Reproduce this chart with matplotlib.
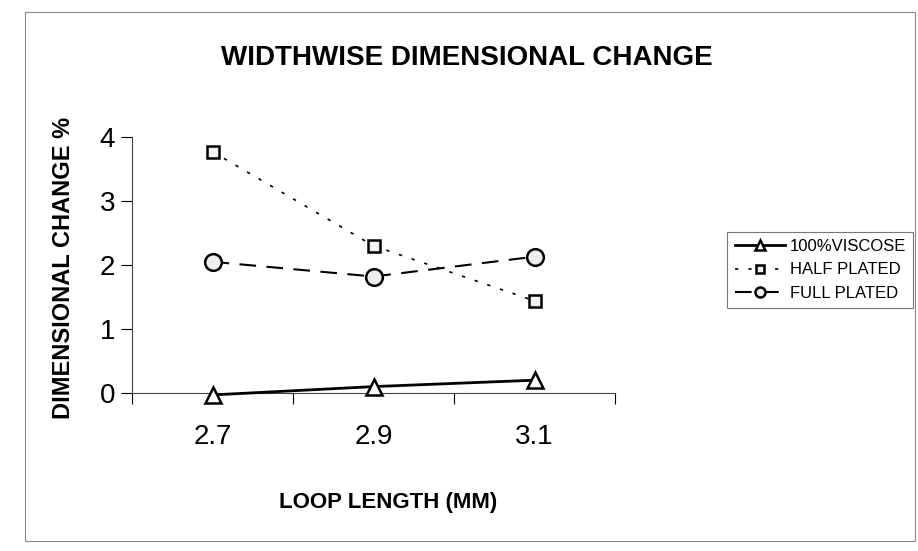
import matplotlib
matplotlib.use("Agg")
import matplotlib.pyplot as plt
from matplotlib.patches import Rectangle

plt.rcParams['font.family'] = ['Liberation Sans', 'DejaVu Sans']

# data
loop_length = ['2.7', '2.9', '3.1']
viscose = [-0.03, 0.10, 0.20]
half_plated = [3.77, 2.30, 1.44]
full_plated = [2.05, 1.82, 2.13]
series_names = ['100%VISCOSE', 'HALF PLATED', 'FULL PLATED']
y_ticks = [0, 1, 2, 3, 4]

fig = plt.figure(figsize=(9.18, 5.51), dpi=100)
ax = fig.add_axes([132 / 918, 1 - 393 / 551, (615 - 132) / 918, (393 - 137) / 551])

x = list(range(len(loop_length)))
ax.plot(x, viscose, color='black', lw=2, marker='^', ms=11, mfc='white', mec='black',
        mew=1.8, label=series_names[0], clip_on=False, zorder=3)
ax.plot(x, half_plated, color='black', lw=1.2, ls=(0, (2, 6)), marker='s', ms=9,
        mfc='#f2f2f2', mec='black', mew=1.8, label=series_names[1], clip_on=False, zorder=3)
ax.plot(x, full_plated, color='black', lw=1.5, ls=(0, (8, 5)), marker='o', ms=12,
        mfc='#eeeeee', mec='black', mew=1.8, label=series_names[2], clip_on=False, zorder=3)

ax.set_xlim(-0.5, len(loop_length) - 0.5)
ax.set_ylim(0, 4)
ax.set_yticks(y_ticks)
ax.set_yticklabels([str(t) for t in y_ticks], fontsize=20)
ax.set_xticks([i - 0.5 for i in range(len(loop_length) + 1)])
ax.set_xticklabels([])
ax.set_xticks(x, minor=True)
ax.set_xticklabels(loop_length, minor=True, fontsize=20)
ax.tick_params(axis='x', which='major', direction='out', length=8, width=0.8)
ax.tick_params(axis='x', which='minor', length=0, pad=22)
ax.tick_params(axis='y', direction='out', length=8, width=0.8, pad=4)

for side in ['top', 'right']:
    ax.spines[side].set_visible(False)
for side in ['left', 'bottom']:
    ax.spines[side].set_linewidth(0.8)
    ax.spines[side].set_color('#444444')

ax.set_ylabel('DIMENSIONAL CHANGE %', fontsize=17, fontweight='bold')
ax.yaxis.set_label_coords(-0.118, 0.49)
ax.set_xlabel('LOOP LENGTH (MM)', fontsize=16, fontweight='bold')
ax.xaxis.set_label_coords(0.53, -0.387)
fig.text(467 / 918, 1 - 58 / 551, 'WIDTHWISE DIMENSIONAL CHANGE', ha='center', va='center',
         fontsize=20, fontweight='bold')

leg = ax.legend(loc='center left', bbox_to_anchor=(727 / 918, 1 - 270 / 551),
                bbox_transform=fig.transFigure, fontsize=12, frameon=True, fancybox=False,
                handlelength=3.0, handletextpad=0.3, borderpad=0.45, labelspacing=0.5,
                markerscale=0.6, borderaxespad=0)
leg.get_frame().set_edgecolor('#555555')
leg.get_frame().set_linewidth(0.8)

# outer chart border
fig.patches.append(Rectangle((25 / 918, 1 - 541 / 551), (915 - 25) / 918, (541 - 12) / 551,
                             transform=fig.transFigure, fill=False, ec='#888888', lw=0.8))

fig.savefig('out.png', dpi=100)
